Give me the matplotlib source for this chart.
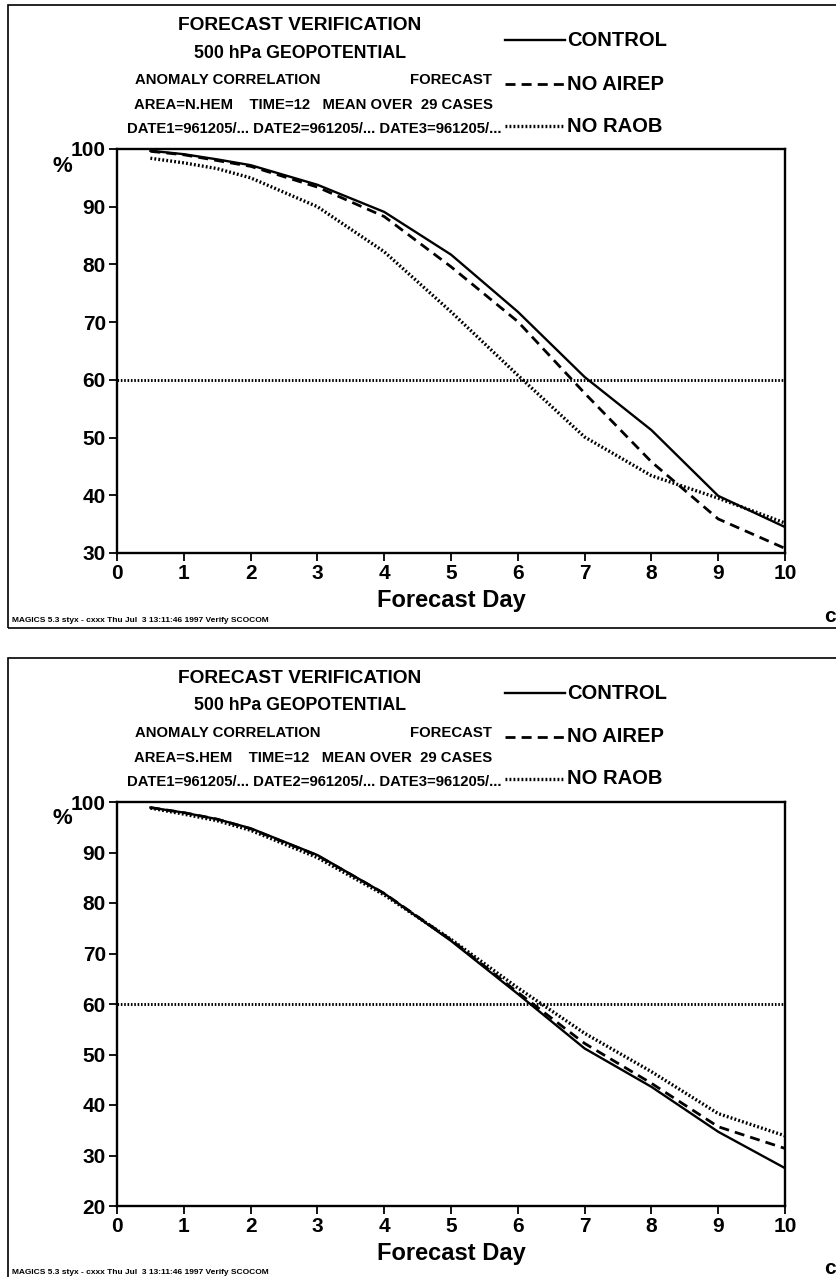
import matplotlib
matplotlib.use("Agg")
import matplotlib.pyplot as plt
from matplotlib.lines import Line2D
from matplotlib.patches import Rectangle

# ---------------- data ----------------
days = [0.5, 1, 1.5, 2, 3, 4, 5, 6, 7, 8, 9, 10]

nh_control = [99.7, 99.1, 98.2, 97.2, 93.8, 89.1, 81.7, 71.8, 60.5, 51.3, 39.9, 34.5]
nh_no_airep = [99.6, 99.0, 98.0, 97.0, 93.4, 88.3, 79.6, 70.1, 57.7, 45.8, 35.9, 30.8]
nh_no_raob = [98.4, 97.6, 96.6, 95.0, 90.0, 82.2, 71.8, 60.8, 50.1, 43.4, 39.5, 35.2]

sh_control = [98.9, 97.9, 96.6, 94.8, 89.5, 81.9, 72.5, 62.0, 51.2, 43.6, 34.7, 27.5]
sh_no_airep = [98.9, 97.9, 96.6, 94.7, 89.4, 81.9, 72.7, 62.3, 52.2, 44.3, 35.7, 31.4]
sh_no_raob = [98.8, 97.6, 96.3, 94.4, 89.0, 81.6, 72.8, 63.2, 54.2, 46.6, 38.3, 33.9]

x_ticks = list(range(0, 11))
nh_yticks = list(range(30, 101, 10))
sh_yticks = list(range(20, 101, 10))
threshold = 60

legend_labels = ["CONTROL", "NO AIREP", "NO RAOB"]
title_lines = ["FORECAST VERIFICATION", "500 hPa GEOPOTENTIAL"]
areas = ["N.HEM", "S.HEM"]
footer = "MAGICS 5.3 styx - cxxx Thu Jul  3 13:11:46 1997 Verify SCOCOM"

# ---------------- style ----------------
FONT = ["Liberation Sans Narrow", "Liberation Sans", "DejaVu Sans"]
plt.rcParams["font.family"] = FONT
plt.rcParams["font.weight"] = "bold"

W, H = 836, 1277
fig = plt.figure(figsize=(W / 100, H / 100), dpi=100)

def fx(px):
    return px / W

def fy(py):
    return 1 - py / H

styles = [
    dict(color="black", lw=1.7, ls="-"),
    dict(color="black", lw=2.0, ls=(0, (3.6, 2.2))),
    dict(color="black", lw=2.4, ls=(0, (0.55, 0.65))),
]

def panel(off, area, series, yticks):
    # outer frame
    fig.patches.append(Rectangle((fx(8), fy(off + 628)), fx(900), 623 / H,
                                 transform=fig.transFigure, fill=False,
                                 lw=1.2, ec="black"))
    top_px, bot_px = off + 149, off + 553
    ax = fig.add_axes([fx(117), fy(bot_px), fx(785 - 117), (bot_px - top_px) / H])
    for s, st in zip(series, styles):
        ax.plot(days, s, **st)
    ax.axhline(threshold, color="black", lw=2.1, ls=(0, (0.55, 0.6)))
    ax.set_xlim(0, 10)
    ax.set_ylim(yticks[0], yticks[-1])
    ax.set_xticks(x_ticks)
    ax.set_yticks(yticks)
    ax.tick_params(axis="both", direction="out", length=6, width=1.3,
                   labelsize=15, pad=2)
    for lab in ax.get_xticklabels() + ax.get_yticklabels():
        lab.set_fontweight("bold")
    for sp in ax.spines.values():
        sp.set_linewidth(1.7)
    ax.set_xlabel("Forecast Day", fontsize=17, fontweight="bold", labelpad=4)
    fig.text(fx(62), fy(off + 166), "%", fontsize=16, fontweight="bold",
             ha="center", va="center")

    # header texts
    fig.text(fx(300), fy(off + 26), title_lines[0], fontsize=13.8,
             fontweight="bold", ha="center", va="center")
    fig.text(fx(300), fy(off + 53), title_lines[1], fontsize=12.8,
             fontweight="bold", ha="center", va="center")
    fig.text(fx(135), fy(off + 80), "ANOMALY CORRELATION", fontsize=10.7,
             fontweight="bold", ha="left", va="center")
    fig.text(fx(492), fy(off + 80), "FORECAST", fontsize=10.7,
             fontweight="bold", ha="right", va="center")
    fig.text(fx(313), fy(off + 105),
             "AREA=%s    TIME=12   MEAN OVER  29 CASES" % area,
             fontsize=10.7, fontweight="bold", ha="center", va="center")
    fig.text(fx(314), fy(off + 129),
             "DATE1=961205/... DATE2=961205/... DATE3=961205/...",
             fontsize=10.7, fontweight="bold", ha="center", va="center")

    # legend
    ys = [off + 40, off + 84, off + 126]
    for lab, st, yy in zip(legend_labels, styles, ys):
        fig.lines.append(Line2D([fx(505), fx(565)], [fy(yy), fy(yy)],
                                transform=fig.transFigure, color="black",
                                lw=st["lw"], ls=st["ls"]))
        fig.text(fx(567), fy(yy), lab, fontsize=14.5, fontweight="bold",
                 ha="left", va="center")

    # footer
    fig.text(fx(12), fy(off + 620), footer, fontsize=6.0, fontweight="bold",
             ha="left", va="center")
    fig.text(fx(824), fy(off + 616), "c", fontsize=15, fontweight="bold",
             ha="left", va="center")
    return ax

panel(0, areas[0], [nh_control, nh_no_airep, nh_no_raob], nh_yticks)
panel(653, areas[1], [sh_control, sh_no_airep, sh_no_raob], sh_yticks)

fig.savefig("out.png", dpi=100)
